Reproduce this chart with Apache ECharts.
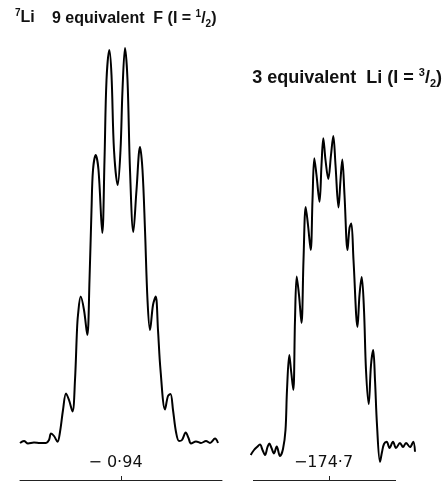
<!DOCTYPE html>
<html>
<head>
<meta charset="utf-8">
<script src="https://cdn.jsdelivr.net/npm/echarts@6/dist/echarts.min.js"></script>
<style>
  html, body { margin: 0; padding: 0; background: #fff; }
  #chart { width: 448px; height: 483px; }
</style>
</head>
<body>
<div id="chart"></div>
<script>
  // 7Li spectra: [relative shift, intensity]
  var fSpectrum = [
    [-101, 0], [-97, 0.5], [-93, -0.1], [-87, 0.1], [-81, 0], [-75, 0],
    [-72, 0.75], [-70, 2.4], [-67, 1.75], [-63.5, 0.3], [-61, 2.75], [-58, 8.25],
    [-55, 12.4], [-52, 10.75], [-48.5, 7.9], [-46, 15.75], [-44, 28.25], [-43, 32],
    [-40.3, 36.6], [-37, 33.25], [-33.7, 27], [-31.5, 40.75], [-29.5, 58.25], [-28, 68.25],
    [-25.3, 72], [-22.5, 68.25], [-18.7, 52.5], [-16.5, 70.75], [-14.5, 90.75], [-11.7, 98.25],
    [-9.5, 92], [-7, 73.25], [-3.3, 64.5], [-0.5, 73.25], [1.5, 88.25], [4, 98.75],
    [6.5, 90.75], [9, 68.25], [12.3, 52.75], [15.5, 63.25], [19, 74], [21.5, 68.25],
    [24, 53.25], [26.5, 35.75], [29, 28.25], [32, 34.5], [34.7, 36.6], [37, 28.25],
    [39.5, 18.25], [44, 8.4], [47, 11.75], [49.5, 12.25], [52, 8.25], [55, 2.75],
    [58, 0.5], [61, 0.75], [64.7, 2.6], [67.5, 1.25], [70, -0.1], [75, 0.4],
    [80, 0], [85, 0.5], [89, 0], [94, 1.1], [97, 0]
  ];
  var liSpectrum = [
    [-78.3, -3], [-75, -1.75], [-72, -1], [-69, -0.4], [-66.5, -1.75], [-64, -3],
    [-61.5, -1], [-59.7, -0.1], [-57.5, -1.25], [-55, -2.6], [-52.3, -0.9], [-49, -3.25],
    [-46, -1.5], [-43.5, 3.25], [-42, 13.25], [-39.7, 22], [-38, 18.25], [-35.7, 13.25],
    [-34, 30.75], [-32.3, 41.6], [-30, 37], [-27.5, 30], [-25.5, 45.75], [-23.3, 59],
    [-21, 54.5], [-18.3, 48.25], [-16.5, 60.75], [-14.7, 71.2], [-12.5, 67], [-9.5, 60.3],
    [-7.5, 69.5], [-5.7, 76.2], [-3.5, 70.75], [-0.7, 66], [2, 72], [4.3, 76.75],
    [6.5, 69.5], [9.5, 58.9], [11.5, 65.75], [13.3, 70.9], [15.5, 62], [18.5, 48.25],
    [20.5, 53.75], [22.3, 54.9], [24.5, 45.75], [28.5, 29], [30.5, 37], [32.7, 41.5],
    [35, 33.25], [37, 18.25], [39.7, 9.75], [42, 19.5], [44.2, 23.25], [46, 15.75],
    [48, 4.5], [51, -4.7], [53, -2.25], [55, -0.25], [57.7, 0.3], [60.5, -1.25],
    [64, 0.3], [67, -1.25], [71, 0], [74, -1], [77, 0], [81, -1],
    [84.3, 0.3], [86, -2.2]
  ];
  var shiftLabels = ['\u2212 0\u00b794', '\u2212174\u00b77'];
  // extent of the drawn shift scale under the Li spectrum
  var liScale = [-76, 67];
  var yMin = -9.25;

  var chart = echarts.init(document.getElementById('chart'));

  function rich (size) {
    return {
      b: { fontFamily: 'Liberation Sans', fontWeight: 'bold', fontSize: size, color: '#111', lineHeight: size + 4 },
      sup: { fontFamily: 'Liberation Sans', fontWeight: 'bold', fontSize: Math.round(size * 0.6), color: '#111', verticalAlign: 'top', lineHeight: size + 4, padding: [0, 0, 8, 0] },
      sub: { fontFamily: 'Liberation Sans', fontWeight: 'bold', fontSize: Math.round(size * 0.6), color: '#111', verticalAlign: 'bottom', lineHeight: size + 4, padding: [6, 0, 0, 0] }
    }
  }

  function shiftAxis (idx, min, max, showLine) {
    return {
      type: 'value', gridIndex: idx, min: min, max: max,
      splitLine: { show: false },
      axisLine: { show: showLine, onZero: false, lineStyle: { color: '#222', width: 1 } },
      axisTick: { show: true, inside: true, length: 4, customValues: [0], lineStyle: { color: '#222' } },
      axisLabel: {
        show: true, inside: true, margin: 9, customValues: [0],
        fontFamily: 'DejaVu Sans', fontSize: 16, color: '#111',
        padding: [0, 11, 0, 0],
        formatter: function () { return shiftLabels[idx] }
      }
    }
  }

  var option = {
    animation: false,
    backgroundColor: '#fff',
    title: [
      { text: '{sup|7}{b|Li}', left: 10, top: 3, textStyle: { rich: rich(16) } },
      { text: '{b|9 equivalent  F (I = }{sup|1}{b|/}{sub|2}{b|)}', left: 47, top: 4, textStyle: { rich: rich(16) } },
      { text: '{b|3 equivalent  Li (I = }{sup|3}{b|/}{sub|2}{b|)}', right: 1, top: 62, textStyle: { rich: rich(18) } }
    ],
    grid: [
      { left: 20, right: 226, top: 43, bottom: 3 },
      { left: 250, right: 31, top: 43, bottom: 3 }
    ],
    xAxis: [shiftAxis(0, -101, 101, true), shiftAxis(1, -79, 88, false)],
    yAxis: [
      { type: 'value', gridIndex: 0, min: yMin, max: 100, show: false },
      { type: 'value', gridIndex: 1, min: yMin, max: 100, show: false }
    ],
    series: [
      {
        type: 'line', xAxisIndex: 0, yAxisIndex: 0, data: fSpectrum,
        smooth: 0.35, showSymbol: false, clip: false,
        lineStyle: { color: '#000', width: 2 }
      },
      {
        type: 'line', xAxisIndex: 1, yAxisIndex: 1, data: liSpectrum,
        smooth: 0.35, showSymbol: false, clip: false,
        lineStyle: { color: '#000', width: 2 },
        markLine: {
          silent: true, symbol: ['none', 'none'], animation: false,
          label: { show: false },
          lineStyle: { type: 'solid', color: '#222', width: 1 },
          emphasis: { disabled: true },
          data: [[{ coord: [liScale[0], yMin] }, { coord: [liScale[1], yMin] }]]
        }
      }
    ]
  };
  chart.setOption(option);
</script>
</body>
</html>
